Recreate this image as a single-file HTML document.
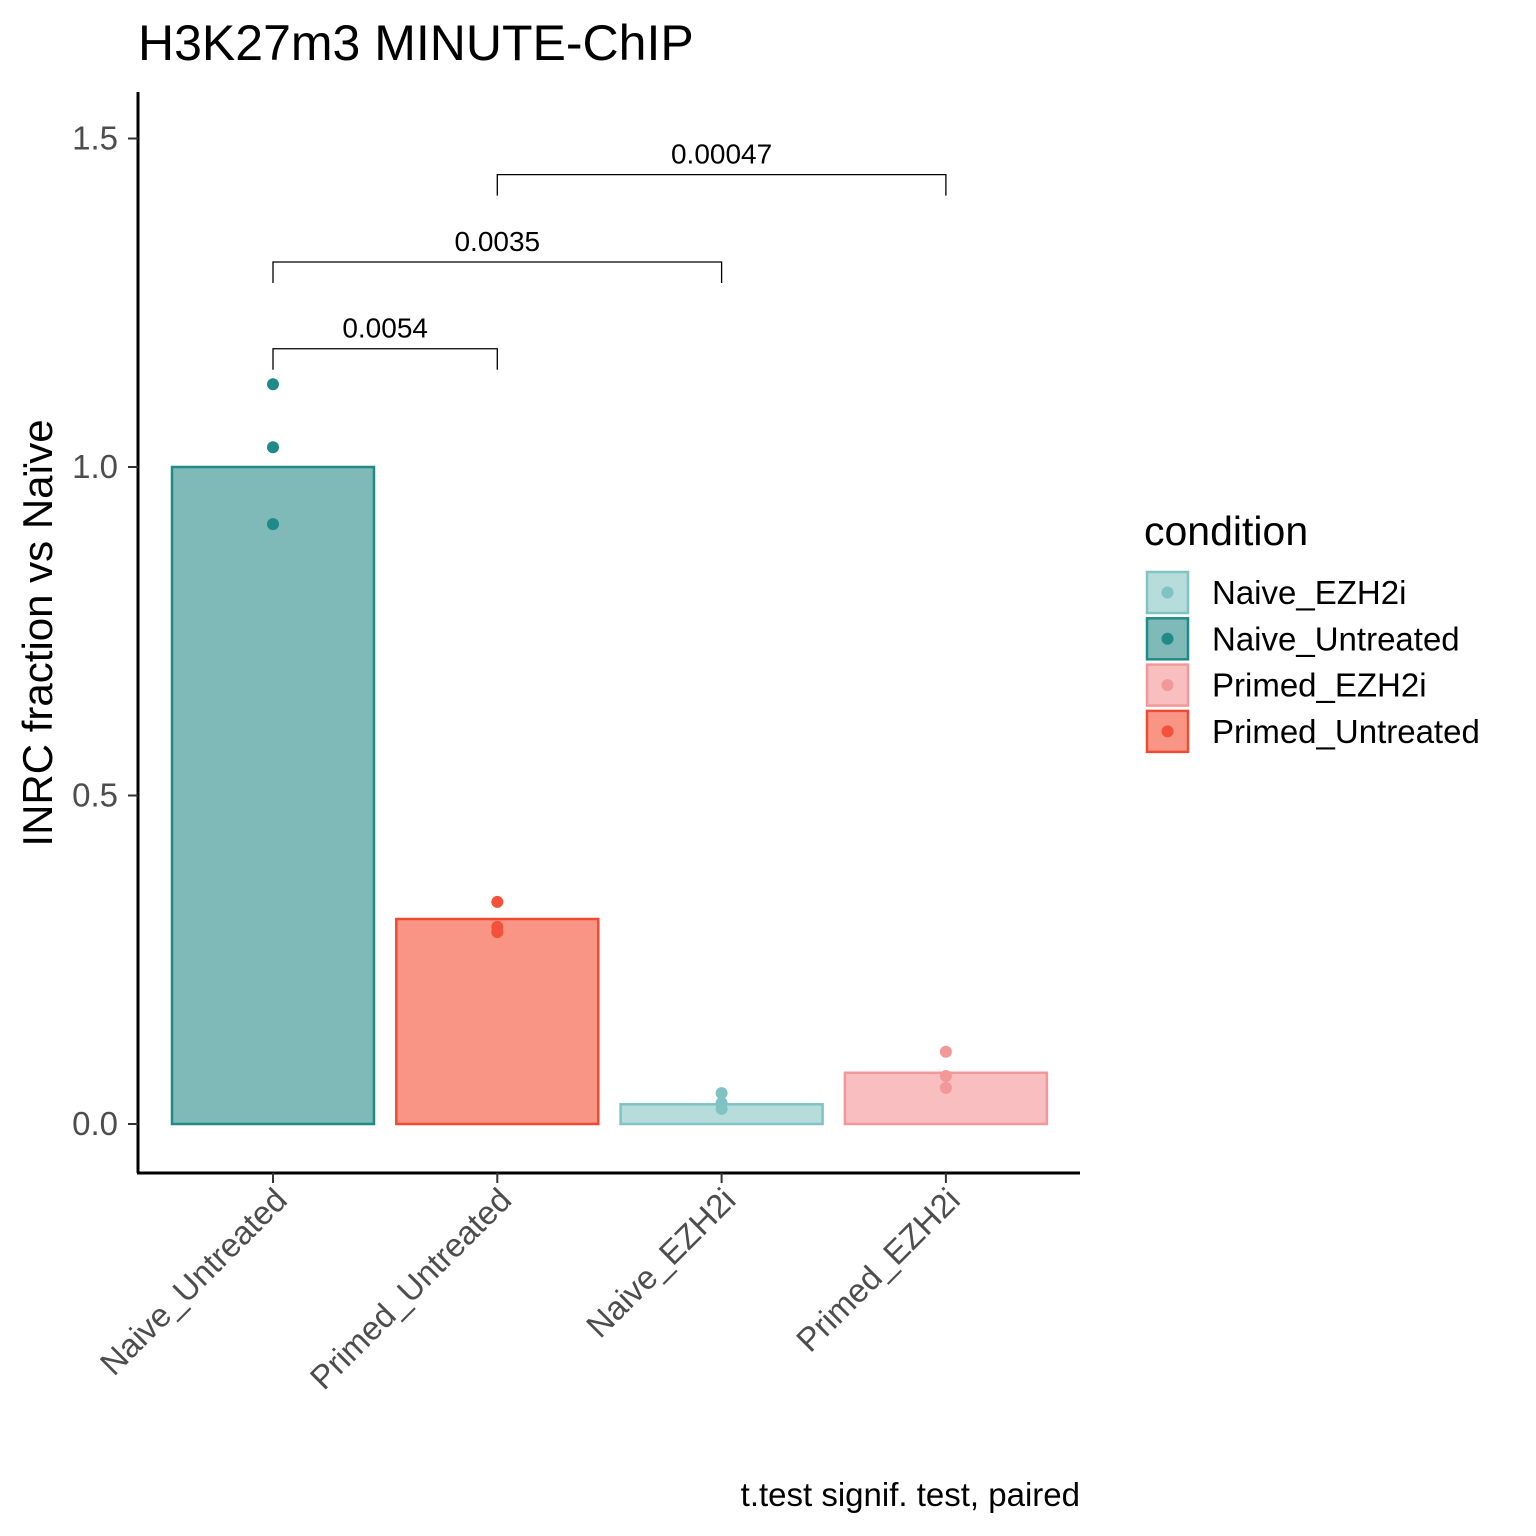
<!DOCTYPE html>
<html><head><meta charset="utf-8"><style>
body{margin:0;background:#fff}
svg{display:block;font-family:"Liberation Sans",Arial,sans-serif}
</style></head><body>
<svg id="chart" width="1536" height="1536" viewBox="0 0 1536 1536">
<text x="138" y="60" font-size="50" fill="#000">H3K27m3 MINUTE-ChIP</text>
<text transform="translate(52,633) rotate(-90)" text-anchor="middle" font-size="42" fill="#000">INRC fraction vs Naïve</text>
<text x="1080" y="1506" text-anchor="end" font-size="33" fill="#000">t.test signif. test, paired</text>
<g id="plot"></g>
<g id="legend"></g>
</svg>
<script>
const categories=["Naive_Untreated","Primed_Untreated","Naive_EZH2i","Primed_EZH2i"];
const barValues=[1.0,0.312,0.030,0.078];
const pointValues=[[1.126,1.030,0.913],[0.338,0.300,0.292],[0.047,0.032,0.023],[0.110,0.073,0.055]];
const yTicks=[0,0.5,1.0,1.5];
const yTickLabels=["0.0","0.5","1.0","1.5"];
const legendLabels=["Naive_EZH2i","Naive_Untreated","Primed_EZH2i","Primed_Untreated"];
const comparisons=[[0,1,1.18,"0.0054"],[0,2,1.312,"0.0035"],[1,3,1.445,"0.00047"]];
const colors={Naive_Untreated:["#7fb9b8","#1f8a87","#1f8a87"],Primed_Untreated:["#f89585","#f04a32","#f4513a"],Naive_EZH2i:["#b6dcdc","#7fc3c3","#7fc3c3"],Primed_EZH2i:["#f8bec0","#f29898","#f29898"]};
const NS="http://www.w3.org/2000/svg";
const y=v=>1124-v*657;
const x=i=>273+i*224.3;
const bw=202;
const plot=document.getElementById('plot');
function mk(tag,attrs,parent){const e=document.createElementNS(NS,tag);for(const k in attrs)e.setAttribute(k,attrs[k]);parent.appendChild(e);return e;}
let ax=mk('line',{x1:138,y1:92,x2:138,y2:1173,stroke:'#000','stroke-width':3},plot);


let bx=mk('line',{x1:137,y1:1173,x2:1080,y2:1173,stroke:'#000','stroke-width':3},plot);


yTicks.forEach((t,i)=>{
  let l=mk('line',{x1:128,x2:138,y1:y(t),y2:y(t),stroke:'#333','stroke-width':2},plot);
  
  
  let tx=mk('text',{x:118,y:y(t)+11,'text-anchor':'end','font-size':33,fill:'#4d4d4d'},plot);
  tx.textContent=yTickLabels[i];
  
  
});
categories.forEach((c,i)=>{
  const col=colors[c];
  let r=mk('rect',{x:x(i)-bw/2,y:y(barValues[i]),width:bw,height:y(0)-y(barValues[i]),fill:col[0],stroke:col[1],'stroke-width':2.5},plot);
  
  
  pointValues[i].forEach(v=>{
    let p=mk('circle',{cx:x(i),cy:y(v),r:6,fill:col[2]},plot);
    
    
  });
  let tk=mk('line',{x1:x(i),x2:x(i),y1:1173,y2:1183,stroke:'#333','stroke-width':2},plot);
  
  
  let t=mk('text',{transform:`translate(${x(i)+16},${1202}) rotate(-45)`,'text-anchor':'end','font-size':33,fill:'#4d4d4d'},plot);
  t.textContent=c;
  
  
});
comparisons.forEach(cp=>{
  const x1=x(cp[0]),x2=x(cp[1]),yy=y(cp[2]);
  let p=mk('path',{d:`M${x1},${yy+21}V${yy}H${x2}V${yy+21}`,fill:'none',stroke:'#000','stroke-width':1.3},plot);
  
  
  let t=mk('text',{x:(x1+x2)/2,y:yy-11,'text-anchor':'middle','font-size':28,fill:'#000'},plot);
  t.textContent=cp[3];
  
  
});
const lg=document.getElementById('legend');
let lt=mk('text',{x:1144,y:545,'font-size':41,fill:'#000'},lg);
lt.textContent='condition';


legendLabels.forEach((c,i)=>{
  const col=colors[c];const yy=572+i*46.3;
  let r=mk('rect',{x:1147,y:yy,width:41,height:41,fill:col[0],stroke:col[1],'stroke-width':2.5},lg);
  
  
  let d=mk('circle',{cx:1167.5,cy:yy+20.5,r:6,fill:col[2]},lg);
  
  
  let t=mk('text',{x:1212,y:yy+32,'font-size':33,fill:'#000'},lg);
  t.textContent=c;
  
  
});
</script>
</body></html>
